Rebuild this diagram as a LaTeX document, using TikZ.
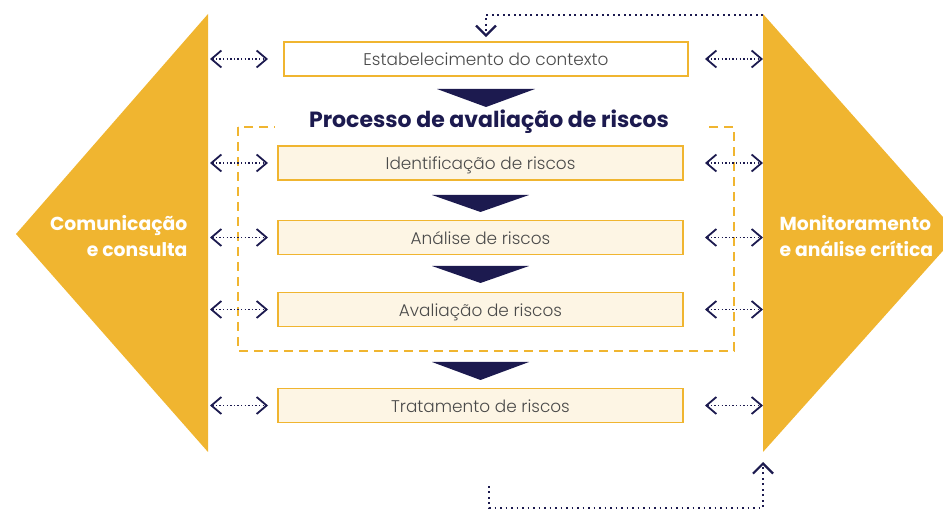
\documentclass[tikz,border=0pt]{standalone}
\usepackage{fontspec}
\setmainfont{Poppins}
\newfontfamily\lightfont{Poppins Light}
\usetikzlibrary{arrows.meta,calc}
\definecolor{gold}{HTML}{F0B530}
\definecolor{navy}{HTML}{1C1A4F}
\definecolor{cream}{HTML}{FDF5E4}
\definecolor{labelgray}{HTML}{4A4A4A}
\begin{document}
\begin{tikzpicture}[x=1pt,y=-1pt,
  barb/.tip={Straight Barb[length=10pt,width=17pt,line width=1.8pt]},
  bigbarb/.tip={Straight Barb[length=10pt,width=20pt,line width=2.2pt]},
  boxbase/.style={draw=gold, line width=1.8pt, inner sep=0pt, minimum height=34pt,
    text height=14pt, text depth=0pt,
    font=\lightfont\fontsize{16.9}{19}\selectfont, text=labelgray},
  stepbox/.style={boxbase, fill=cream, minimum width=405pt},
  ctxbox/.style={boxbase, fill=white, minimum width=404pt},
  dbl/.style={navy, line width=1.3pt, dash pattern=on 1.3pt off 2.3pt, barb-barb},
  loopline/.style={navy, line width=2.4pt, dash pattern=on 1.8pt off 3.7pt},
  sidetext/.style={font=\bfseries\fontsize{18.8}{26}\selectfont, text=white},
  downtri/.style={fill=navy}
]
\useasboundingbox (0,0) rectangle (943,510);
\clip (0,0) rectangle (943,510);

% side shapes
\fill[gold] (208,14) -- (16,234) -- (208,452) -- cycle;
\fill[gold] (763,14) -- (958,234) -- (763,452) -- cycle;
\node[sidetext, align=right, anchor=east] (com) at (191,236) {Comunicação\\e consulta};
\node[sidetext, align=left, anchor=west] (mon) at (776,236) {Monitoramento\\e análise crítica};

% dashed frame
\draw[gold, line width=1.8pt, dash pattern=on 9pt off 6pt] (238,127) rectangle (734,351);

% boxes
\node[ctxbox] (ctx) at (486,59) {Estabelecimento do contexto};
\node[fill=white, minimum width=428pt, minimum height=26pt, inner sep=0pt,
      font=\bfseries\fontsize{22}{24}\selectfont, text=navy] (title) at (489,122) {Processo de avaliação de riscos};
\node[stepbox] (ident) at (480.5,163) {Identificação de riscos};
\node[stepbox] (anal) at (480.5,237.5) {Análise de riscos};
\node[stepbox] (aval) at (480.5,309.5) {Avaliação de riscos};
\node[stepbox] (trat) at (480.5,405.5) {Tratamento de riscos};

% down triangles
\fill[downtri] (437,89) -- (535,89) -- (486,107) -- cycle;
\fill[downtri] (432,195) -- (529,195) -- (480.5,212) -- cycle;
\fill[downtri] (432,266) -- (529,266) -- (480.5,283) -- cycle;
\fill[downtri] (432,362) -- (529,362) -- (480.5,380) -- cycle;

% side double arrows
\coordinate (L1) at (210,0);
\coordinate (L2) at (268,0);
\coordinate (R1) at (705,0);
\coordinate (R2) at (763,0);
\foreach \n in {ctx,ident,anal,aval,trat}{
  \draw[dbl] (L1 |- \n) -- (L2 |- \n);
  \draw[dbl] (R1 |- \n) -- (R2 |- \n);
}

% top loop
\coordinate (tstart) at (763,15);
\coordinate (tcorner) at (486,15);
\draw[loopline, -bigbarb] (tstart) -- (tcorner) -- ($(ctx.north)+(0,-4)$);

% bottom loop
\coordinate (bstart) at (489,486);
\coordinate (bc1) at (489,508);
\coordinate (bc2) at (763,508);
\coordinate (bend) at (763,462);
\draw[loopline, -bigbarb] (bstart) -- (bc1) -- (bc2) -- (bend);
\end{tikzpicture}
\end{document}
